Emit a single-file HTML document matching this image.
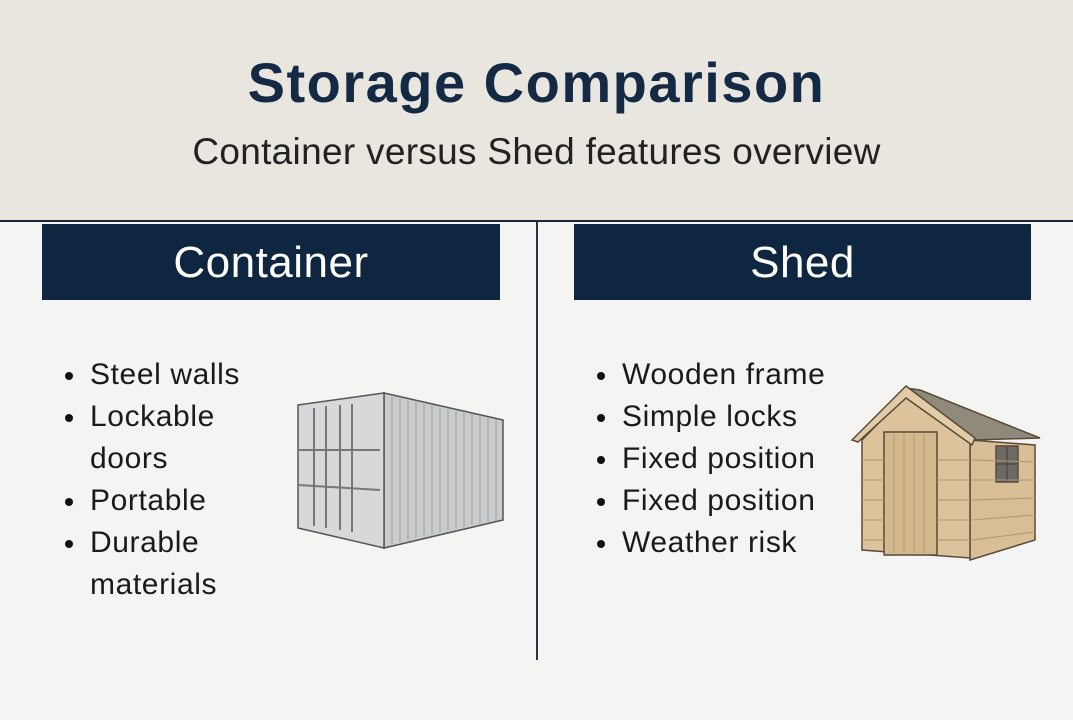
<!DOCTYPE html>
<html><head><style>
body{margin:0;width:1073px;height:720px;background:#f4f4f2;font-family:"Liberation Sans",sans-serif;overflow:hidden;position:relative}
.hd{position:absolute;left:0;top:0;width:1073px;height:220px;background:#e9e6e0;border-bottom:2px solid #1a2a3c}
h1{position:absolute;top:50px;width:100%;text-align:center;margin:0;font-size:56px;letter-spacing:1.5px;color:#142a44;font-weight:bold}
.sub{position:absolute;top:131px;width:100%;text-align:center;font-size:37px;letter-spacing:0.3px;color:#222}
.bar{position:absolute;top:224px;height:76px;background:#0f2640;color:#fff;font-size:44px;letter-spacing:0.5px;text-align:center;line-height:78px}
.div{position:absolute;left:536px;top:222px;width:2px;height:438px;background:#2a3442}
ul{position:absolute;margin:0;padding:0;list-style:none;font-size:30px;letter-spacing:0.6px;color:#1a1a1a;line-height:42px}
li{padding-left:28px;position:relative}
li.b:before{content:"";position:absolute;left:3px;top:18px;width:8px;height:8px;border-radius:50%;background:#111}
</style></head><body>
<div class="hd"></div>
<h1>Storage Comparison</h1>
<div class="sub">Container versus Shed features overview</div>
<div class="bar" style="left:42px;width:458px">Container</div>
<div class="bar" style="left:574px;width:457px">Shed</div>
<div class="div"></div>
<ul style="left:62px;top:354px"><li class="b">Steel walls</li><li class="b">Lockable</li><li>doors</li><li class="b">Portable</li><li class="b">Durable</li><li>materials</li></ul>
<ul style="left:594px;top:354px"><li class="b">Wooden frame</li><li class="b">Simple locks</li><li class="b">Fixed position</li><li class="b">Fixed position</li><li class="b">Weather risk</li></ul>
<svg style="position:absolute;left:0;top:0" width="1073" height="720">
<g stroke="#555" stroke-width="1.5">
<polygon points="384,393 503,420 503,520 384,548" fill="#c9cbcd"/>
<polygon points="298,405 384,393 384,548 298,528" fill="#d6d8da"/>
<g stroke="#9a9c9e" stroke-width="1">
<line x1="392" y1="397" x2="392" y2="544"/><line x1="400" y1="399" x2="400" y2="542"/><line x1="408" y1="401" x2="408" y2="540"/><line x1="416" y1="402" x2="416" y2="538"/><line x1="424" y1="404" x2="424" y2="536"/><line x1="432" y1="406" x2="432" y2="534"/><line x1="440" y1="408" x2="440" y2="532"/><line x1="448" y1="409" x2="448" y2="530"/><line x1="456" y1="411" x2="456" y2="528"/><line x1="464" y1="413" x2="464" y2="527"/><line x1="472" y1="414" x2="472" y2="525"/><line x1="480" y1="416" x2="480" y2="524"/><line x1="488" y1="417" x2="488" y2="522"/><line x1="496" y1="419" x2="496" y2="521"/>
</g>
<g stroke="#777" stroke-width="2"><line x1="314" y1="408" x2="314" y2="526"/><line x1="326" y1="406" x2="326" y2="528"/><line x1="340" y1="405" x2="340" y2="530"/><line x1="352" y1="404" x2="352" y2="532"/><line x1="298" y1="450" x2="380" y2="450"/><line x1="298" y1="485" x2="380" y2="490"/></g>
</g>
<g stroke="#5a4a38" stroke-width="1.5">
<polygon points="920,390 1040,438 972,440 906,388" fill="#8f8a7c"/>
<polygon points="970,440 1035,445 1035,540 970,560" fill="#d9bf98"/>
<polygon points="862,440 906,395 970,440 970,558 862,550" fill="#dcc39c"/>
<polygon points="906,386 852,440 858,442 906,398 972,445 975,438" fill="#e2cca8"/>
<rect x="884" y="432" width="53" height="123" fill="#d4b98f"/>
<rect x="996" y="446" width="22" height="36" fill="#6b6a66"/>
<line x1="1007" y1="446" x2="1007" y2="482"/><line x1="996" y1="464" x2="1018" y2="464"/>
<g stroke="#b0966e" stroke-width="1"><line x1="894" y1="434" x2="894" y2="553"/><line x1="904" y1="434" x2="904" y2="553"/><line x1="914" y1="434" x2="914" y2="553"/><line x1="924" y1="434" x2="924" y2="553"/>
<line x1="972" y1="460" x2="1035" y2="462"/><line x1="972" y1="480" x2="1035" y2="480"/><line x1="972" y1="500" x2="1035" y2="498"/><line x1="972" y1="520" x2="1035" y2="515"/><line x1="972" y1="540" x2="1035" y2="532"/>
<line x1="862" y1="460" x2="884" y2="460"/><line x1="862" y1="480" x2="884" y2="480"/><line x1="862" y1="500" x2="884" y2="500"/><line x1="862" y1="520" x2="884" y2="520"/><line x1="862" y1="540" x2="884" y2="540"/>
<line x1="937" y1="460" x2="970" y2="460"/><line x1="937" y1="480" x2="970" y2="480"/><line x1="937" y1="500" x2="970" y2="500"/><line x1="937" y1="520" x2="970" y2="520"/><line x1="937" y1="540" x2="970" y2="540"/></g>
</g>
</svg>
</body></html>
